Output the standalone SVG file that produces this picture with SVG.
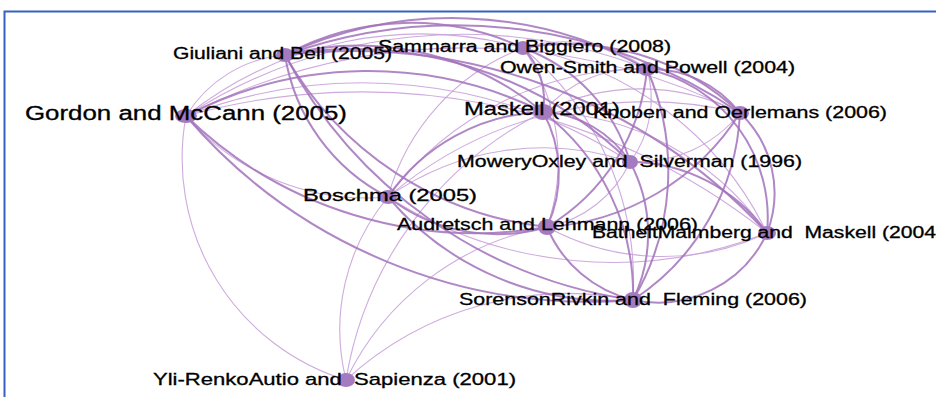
<svg xmlns="http://www.w3.org/2000/svg" width="936" height="397" viewBox="0 0 936 397">
<style>
.e2{fill:none;stroke:#a272bb;stroke-width:2;stroke-opacity:.85}
.e1{fill:none;stroke:#c9a2da;stroke-width:1.1;stroke-opacity:.9}
.n{fill:#a57bc0}
.t{font-family:"Liberation Sans",Arial,sans-serif;fill:#000;stroke:#000;stroke-width:.3;white-space:pre}
</style>
<rect width="936" height="397" fill="#fff"/>
<path d="M4.5 397 V11.5 H936" fill="none" stroke="#3760c2" stroke-width="2"/>
<g id="connectors">
<path class="e1" d="M346 380 A232 232 0 0 1 186 116"/>
<path class="e1" d="M346 380 A207 207 0 0 1 388 197"/>
<path class="e1" d="M346 380 A366 366 0 0 1 543 112"/>
<path class="e1" d="M346 380 A278 278 0 0 1 547 227"/>
<path class="e1" d="M346 380 A328 328 0 0 1 633 300"/>
<path class="e1" d="M186 116 A128 128 0 0 1 285 55"/>
<path class="e1" d="M186 116 A378 378 0 0 1 523 48"/>
<path class="e1" d="M186 116 A509 509 0 0 1 647 69"/>
<path class="e1" d="M186 116 A609 609 0 0 1 740 113"/>
<path class="e1" d="M186 116 A652 652 0 0 1 767 233"/>
<path class="e1" d="M186 116 A490 490 0 0 1 630 162"/>
<path class="e1" d="M388 197 A240 240 0 0 1 186 116"/>
<path class="e1" d="M388 197 A270 270 0 0 1 630 162"/>
<path class="e1" d="M388 197 A398 398 0 0 1 740 113"/>
<path class="e1" d="M388 197 A318 318 0 0 1 647 69"/>
<path class="e1" d="M388 197 A221 221 0 0 1 523 48"/>
<path class="e1" d="M767 233 A419 419 0 0 1 388 197"/>
<path class="e1" d="M523 48 A139 139 0 0 1 647 69"/>
<path class="e1" d="M523 48 A199 199 0 0 1 547 227"/>
<path class="e1" d="M523 48 A337 337 0 0 1 767 233"/>
<path class="e1" d="M523 48 A303 303 0 0 1 633 300"/>
<path class="e1" d="M543 112 A124 124 0 0 1 647 69"/>
<path class="e1" d="M543 112 A217 217 0 0 1 740 113"/>
<path class="e1" d="M543 112 A281 281 0 0 1 767 233"/>
<path class="e1" d="M740 113 A132 132 0 0 1 630 162"/>
<path class="e1" d="M647 69 A105 105 0 0 1 630 162"/>
<path class="e1" d="M630 162 A116 116 0 0 1 547 227"/>
<path class="e1" d="M767 233 A242 242 0 0 1 547 227"/>
<path class="e2" d="M186 116 A393 393 0 0 1 543 112"/>
<path class="e2" d="M633 300 A531 531 0 0 1 186 116"/>
<path class="e2" d="M547 227 A416 416 0 0 1 186 116"/>
<path class="e2" d="M285 55 A290 290 0 0 1 543 112"/>
<path class="e2" d="M285 55 A397 397 0 0 1 630 162"/>
<path class="e2" d="M547 227 A344 344 0 0 1 285 55"/>
<path class="e2" d="M388 197 A193 193 0 0 1 285 55"/>
<path class="e2" d="M633 300 A469 469 0 0 1 285 55"/>
<path class="e2" d="M285 55 A505 505 0 0 1 740 113"/>
<path class="e2" d="M285 55 A398 398 0 0 1 647 69"/>
<path class="e2" d="M285 55 A565 565 0 0 1 767 233"/>
<path class="e2" d="M285 55 A262 262 0 0 1 523 48"/>
<path class="e2" d="M543 112 A127 127 0 0 1 547 227"/>
<path class="e2" d="M543 112 A229 229 0 0 1 633 300"/>
<path class="e2" d="M543 112 A110 110 0 0 1 630 162"/>
<path class="e2" d="M388 197 A195 195 0 0 1 543 112"/>
<path class="e2" d="M647 69 A113 113 0 0 1 740 113"/>
<path class="e2" d="M647 69 A206 206 0 0 1 547 227"/>
<path class="e2" d="M647 69 A254 254 0 0 1 633 300"/>
<path class="e2" d="M647 69 A152 152 0 0 1 767 233"/>
<path class="e2" d="M740 113 A110 110 0 0 1 767 233"/>
<path class="e2" d="M740 113 A237 237 0 0 1 633 300"/>
<path class="e2" d="M740 113 A246 246 0 0 1 547 227"/>
<path class="e2" d="M630 162 A169 169 0 0 1 767 233"/>
<path class="e2" d="M630 162 A152 152 0 0 1 633 300"/>
<path class="e2" d="M633 300 A124 124 0 0 1 547 227"/>
<path class="e2" d="M767 233 A120 120 0 0 1 633 300"/>
<path class="e2" d="M523 48 A74 74 0 0 1 543 112"/>
<path class="e2" d="M523 48 A172 172 0 0 1 630 162"/>
<path class="e2" d="M633 300 A293 293 0 0 1 388 197"/>
<path class="e2" d="M547 227 A178 178 0 0 1 388 197"/>
<path class="e2" d="M523 48 A250 250 0 0 1 740 113"/>
</g>
<g id="node-giuliani"><ellipse class="n" cx="285" cy="55" rx="9" ry="7"/><text class="t" x="173" y="59" font-size="16" textLength="219" lengthAdjust="spacingAndGlyphs">Giuliani and Bell (2005)</text></g>
<g id="node-sammarra"><ellipse class="n" cx="523" cy="48" rx="8" ry="7"/><text class="t" x="378" y="52" font-size="16" textLength="293" lengthAdjust="spacingAndGlyphs">Sammarra and Biggiero (2008)</text></g>
<g id="node-owensmith"><ellipse class="n" cx="647" cy="69" rx="9" ry="7"/><text class="t" x="500" y="73" font-size="16" textLength="295" lengthAdjust="spacingAndGlyphs">Owen-Smith and Powell (2004)</text></g>
<g id="node-gordon"><ellipse class="n" cx="186" cy="116" rx="11" ry="7"/><text class="t" x="25" y="120" font-size="20" textLength="322" lengthAdjust="spacingAndGlyphs">Gordon and McCann (2005)</text></g>
<g id="node-maskell"><ellipse class="n" cx="543" cy="112" rx="10" ry="8"/><text class="t" x="464" y="115" font-size="18.5" textLength="156" lengthAdjust="spacingAndGlyphs">Maskell (2001)</text></g>
<g id="node-knoben"><ellipse class="n" cx="740" cy="113" rx="9" ry="7"/><text class="t" x="593" y="118" font-size="16" textLength="294" lengthAdjust="spacingAndGlyphs">Knoben and Oerlemans (2006)</text></g>
<g id="node-mowery"><ellipse class="n" cx="630" cy="162" rx="8" ry="7"/><text class="t" x="457" y="167" font-size="16" textLength="345" lengthAdjust="spacingAndGlyphs">MoweryOxley and  Silverman (1996)</text></g>
<g id="node-boschma"><ellipse class="n" cx="388" cy="197" rx="9" ry="7"/><text class="t" x="303" y="201" font-size="17" textLength="174" lengthAdjust="spacingAndGlyphs">Boschma (2005)</text></g>
<g id="node-audretsch"><ellipse class="n" cx="547" cy="227" rx="9" ry="8"/><text class="t" x="397" y="230" font-size="17" textLength="301" lengthAdjust="spacingAndGlyphs">Audretsch and Lehmann (2006)</text></g>
<g id="node-bathelt"><ellipse class="n" cx="767" cy="233" rx="9" ry="7"/><text class="t" x="592" y="238" font-size="16" textLength="344" lengthAdjust="spacingAndGlyphs">BatheltMalmberg and  Maskell (2004</text></g>
<g id="node-sorenson"><ellipse class="n" cx="633" cy="300" rx="9" ry="8"/><text class="t" x="459" y="305" font-size="17" textLength="348" lengthAdjust="spacingAndGlyphs">SorensonRivkin and  Fleming (2006)</text></g>
<g id="node-ylirenko"><ellipse class="n" cx="346" cy="380" rx="9" ry="7"/><text class="t" x="153" y="385" font-size="17" textLength="363" lengthAdjust="spacingAndGlyphs">Yli-RenkoAutio and  Sapienza (2001)</text></g>
</svg>
